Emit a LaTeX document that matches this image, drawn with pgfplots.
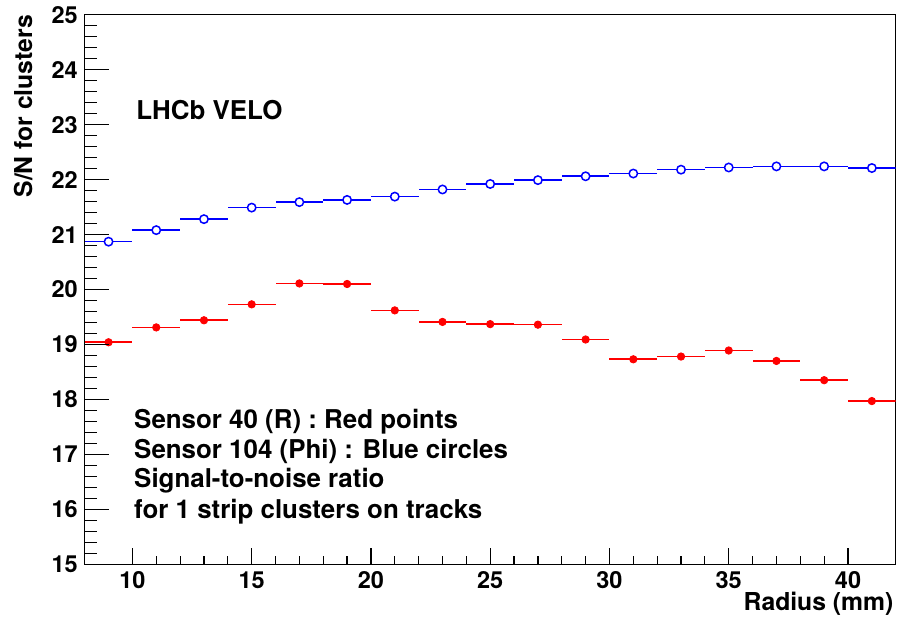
\documentclass[border=0pt]{standalone}
\usepackage{fontspec}
\setmainfont{TeX Gyre Heros}
\usepackage{pgfplots}
\usepackage{pgfplotstable}
\pgfplotsset{compat=1.18}
\pgfplotstableread{
x red blue
9 19.04 20.87
11 19.31 21.08
13 19.44 21.28
15 19.73 21.49
17 20.11 21.59
19 20.10 21.63
21 19.62 21.69
23 19.41 21.82
25 19.37 21.92
27 19.36 21.99
29 19.09 22.06
31 18.73 22.11
33 18.78 22.18
35 18.89 22.22
37 18.70 22.24
39 18.35 22.24
41 17.97 22.21
}\datatable
\pgfplotsset{
  base/.style={
    scale only axis, width=405.5bp, height=274.8bp,
    xmin=8, xmax=42, ymin=15, ymax=25,
    tick align=inside, tick pos=left,
    tick style={line width=0.6bp, black},
    /pgf/number format/assume math mode=true,
    tick label style={font=\fontsize{11.8}{14}\selectfont\bfseries},
  }
}
\begin{document}
\begin{tikzpicture}
\path[use as bounding box] (-42.35bp,-30.35bp) rectangle (406.15bp,282.15bp);
\begin{axis}[base,
  axis line style={line width=0.6bp, black},
  xtick={10,15,...,40}, minor x tick num=4,
  major tick length=8bp, minor tick length=4bp,
  ytick=\empty,
  xlabel={Radius (mm)},
  ylabel={S/N for clusters},
  label style={font=\fontsize{12.4}{14}\selectfont\bfseries},
  xlabel style={at={(axis description cs:1,0)}, anchor=base east, inner sep=0pt, yshift=-22.9bp, xshift=-1bp},
  ylabel style={at={(axis description cs:-0.076,1)}, anchor=east, inner sep=0pt, rotate=0},
]
\addplot[only marks, color=red, mark=*, mark size=1.85bp,
  error bars/.cd, x dir=both, x fixed=1, error mark=none,
  error bar style={line width=0.8bp, red}]
  table[x=x, y=red]{\datatable};
\addplot[only marks, color=blue, mark=*, mark size=2.1bp,
  mark options={fill=white, draw=blue, line width=0.75bp},
  error bars/.cd, x dir=both, x fixed=1, error mark=none,
  error bar style={line width=0.8bp, blue}]
  table[x=x, y=blue]{\datatable};
\begin{scope}[every node/.style={anchor=base west, inner sep=0pt, font=\fontsize{13}{15}\selectfont\bfseries}]
\node at (axis cs:10.15,23.1) {LHCb VELO};
\node at (axis cs:10.06,17.476) {Sensor 40 (R) : Red points};
\node at (axis cs:10.06,16.93) {Sensor 104 (Phi) : Blue circles};
\node at (axis cs:10.06,16.39) {Signal-to-noise ratio};
\node at (axis cs:10.06,15.84) {for 1 strip clusters on tracks};
\end{scope}
\end{axis}
\begin{axis}[base,
  axis line style={draw=none},
  xtick=\empty,
  ytick={15,16,...,25}, minor y tick num=4,
  major tick length=12bp, minor tick length=6bp,
]
\end{axis}
\end{tikzpicture}
\end{document}
